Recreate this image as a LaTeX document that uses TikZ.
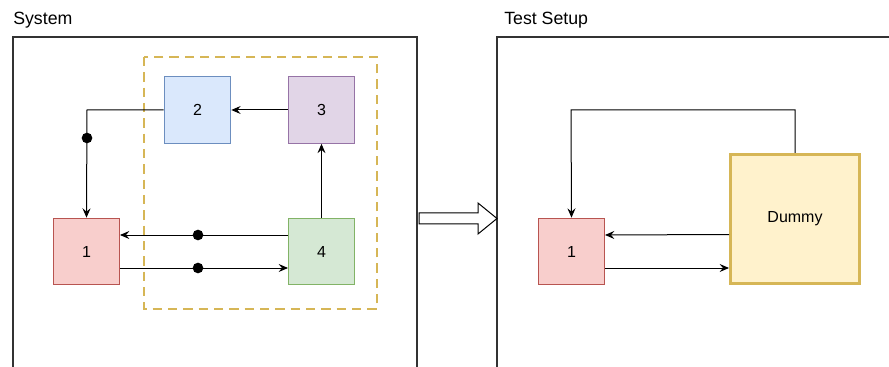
\documentclass[tikz,border=0pt]{standalone}
\usepackage{fontspec}
\setmainfont{Liberation Sans}
\usetikzlibrary{arrows.meta}
\definecolor{redfill}{HTML}{F8CECC}\definecolor{redline}{HTML}{B85450}
\definecolor{bluefill}{HTML}{DAE8FC}\definecolor{blueline}{HTML}{6C8EBF}
\definecolor{purplefill}{HTML}{E1D5E7}\definecolor{purpleline}{HTML}{9673A6}
\definecolor{greenfill}{HTML}{D5E8D4}\definecolor{greenline}{HTML}{82B366}
\definecolor{yellowfill}{HTML}{FFF2CC}\definecolor{yellowline}{HTML}{D6B656}
\definecolor{frame}{HTML}{333333}
\tikzset{
  block/.style={draw, line width=0.75pt, minimum width=50pt, minimum height=50pt,
    inner sep=0pt, font=\fontsize{12}{14}\selectfont},
  redblk/.style={block, fill=redfill, draw=redline},
  blueblk/.style={block, fill=bluefill, draw=blueline},
  purpleblk/.style={block, fill=purplefill, draw=purpleline},
  greenblk/.style={block, fill=greenfill, draw=greenline},
  link/.style={draw=black, line width=0.75pt, -{Stealth[length=7pt,width=6pt,inset=2.5pt]}},
  junction/.style={circle, fill=black, inner sep=0pt, minimum size=8pt},
  title/.style={anchor=west, font=\fontsize{13.3}{15}\selectfont, inner sep=0pt},
}
\begin{document}
\begin{tikzpicture}[x=0.75pt, y=-0.75pt]
\useasboundingbox (0,0) rectangle (889,367);

% outer frames, cut by the page bottom
\node[title] (systitle) at (13,20) {System};
\node[title] (testtitle) at (504,20) {Test Setup};
\draw[frame, line width=0.9pt] (13,370) -- (13,37) -- (417,37) -- (417,370);
\draw[frame, line width=0.9pt] (497,370) -- (497,37) -- (892,37);

% grouping frame
\draw[yellowline, line width=2.2pt, dash pattern=on 7pt off 4.5pt] (144,57) rectangle (377,309);

% system blocks
\node[redblk] (s1) at (86.5,251.5) {1};
\node[blueblk] (s2) at (197.5,110) {2};
\node[purpleblk] (s3) at (321.5,110) {3};
\node[greenblk] (s4) at (321.5,251.5) {4};

\coordinate (c21) at (87,110);
\draw[link] (s2.west) -- (c21) -- (s1.north);
\node[junction] (j21) at (87,138) {};
\draw[link] (s3.west) -- (s2.east);
\draw[link] (s4.north) -- (s3.south);
\coordinate (s4w) at (288,235);
\coordinate (s1e) at (120,235);
\coordinate (s1e2) at (120,268);
\coordinate (s4w2) at (288,268);
\draw[link] (s4w) -- (s1e);
\draw[link] (s1e2) -- (s4w2);
\node[junction] (j41) at (198,235) {};
\node[junction] (j14) at (198,268) {};

% block arrow between the frames
\draw[black, line width=0.75pt, fill=white]
  (419,213) -- (478,213) -- (478,203) -- (497,218.5) -- (478,234) -- (478,224) -- (419,224) -- cycle;

% test setup blocks
\node[redblk] (t1) at (571.5,251.5) {1};
\node[block, fill=yellowfill, draw=yellowline, line width=2.2pt,
  minimum width=97pt, minimum height=97pt] (dummy) at (795,219) {Dummy};

\coordinate (dtop) at (795,110);
\coordinate (ltop) at (571,110);
\draw[link] (dummy.north) -- (dtop) -- (ltop) -- (t1.north);
\coordinate (dw1) at (729,234.5);
\coordinate (t1e1) at (605,235);
\coordinate (t1e2) at (605,268);
\coordinate (dw2) at (729,268);
\draw[link] (dw1) -- (t1e1);
\draw[link] (t1e2) -- (dw2);
\end{tikzpicture}
\end{document}
